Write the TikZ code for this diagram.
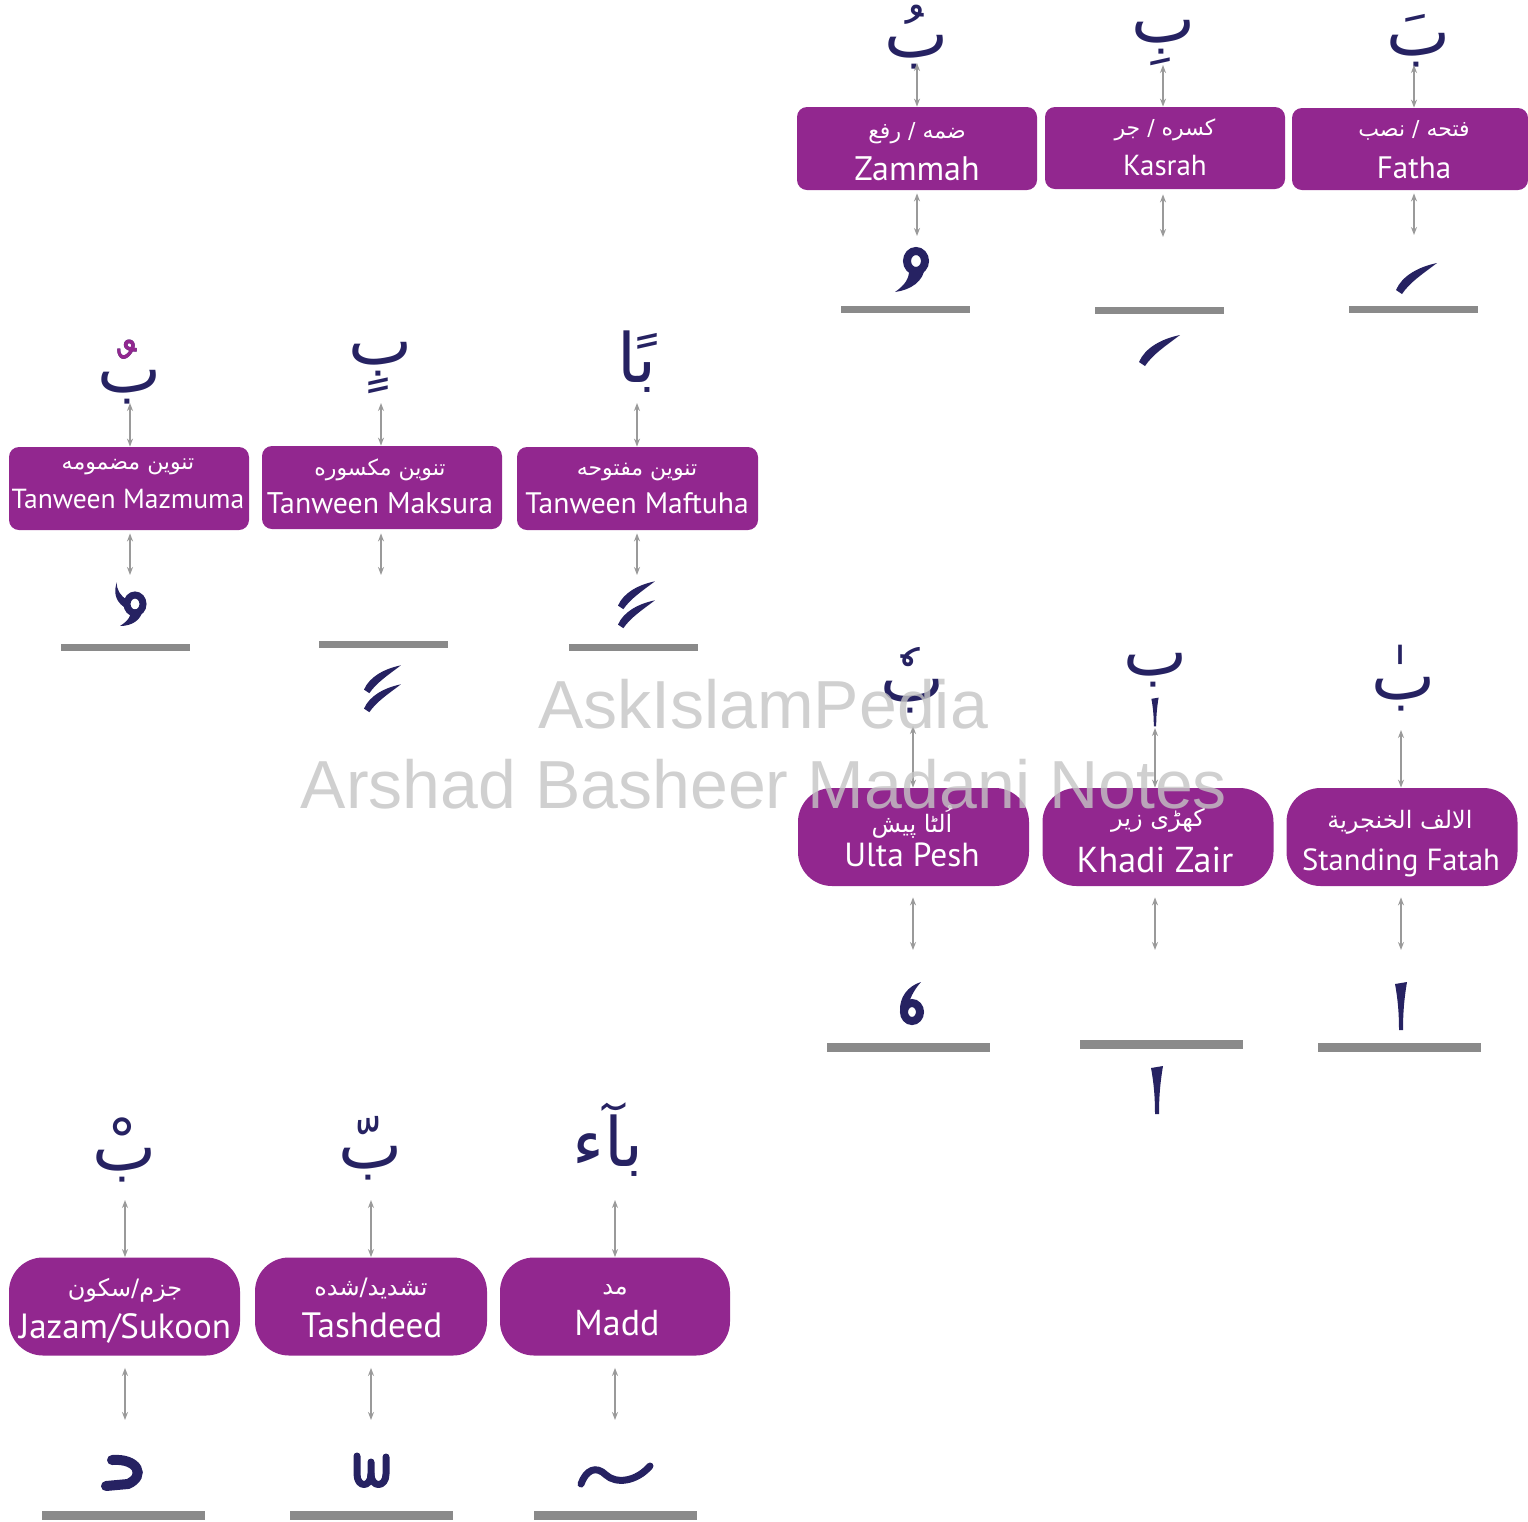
\documentclass[tikz,border=0pt]{standalone}
\usepackage{fontspec}
\setmainfont{PT Sans}
\newfontfamily\arabicfont[Script=Arabic]{DejaVu Sans}
\newfontfamily\wmfont{Liberation Sans}
\TeXXeTstate=1
\usetikzlibrary{arrows.meta}
\definecolor{boxpurple}{HTML}{92278F}
\definecolor{ink}{HTML}{262262}
\definecolor{arrgray}{HTML}{9A9A9A}
\definecolor{bargray}{HTML}{8A8A8A}
\definecolor{wmgray}{HTML}{C4C4C4}
\tikzset{
  sqbox/.style={fill=boxpurple, rounded corners=5pt, minimum width=120pt, minimum height=41.5pt, inner sep=0pt},
  rdbox/.style={fill=boxpurple, rounded corners=17pt, minimum width=115.5pt, minimum height=49pt, inner sep=0pt},
  artxt/.style={text=white, inner sep=0pt, font=\arabicfont\fontsize{11}{13}\selectfont},
  entxt/.style={text=white, inner sep=0pt, anchor=base},
  letter/.style={text=ink, inner sep=0pt, font=\arabicfont\fontsize{34}{36}\selectfont},
  dbl/.style={arrgray, line width=0.75pt, {Stealth[length=4pt,width=3pt]}-{Stealth[length=4pt,width=3pt]}},
  barA/.style={fill=bargray, minimum width=64.5pt, minimum height=3.5pt, inner sep=0pt},
  barB/.style={fill=bargray, minimum width=81.5pt, minimum height=4.5pt, inner sep=0pt},
  fstroke/.pic={\fill[ink] (-20,14) .. controls (-14,0) and (2,-9) .. (21,-13) .. controls (8,-3) and (-6,6) .. (-14,18) -- cycle;},
  vstroke/.pic={\fill[ink] (-6,-22) -- (6,-24) .. controls (3,-6) and (2,8) .. (2,24) -- (-2,24) .. controls (-2,8) and (-3,-6) .. (-6,-22) -- cycle;},
}
\begin{document}
\begin{tikzpicture}[x=0.5pt,y=-0.5pt]
\useasboundingbox (0,0) rectangle (1528,1522);

% ================= Group 1 =================
\node[sqbox] (zb) at (917,148.5) {};
\node[sqbox, minimum height=41pt] (kb) at (1165,148) {};
\node[sqbox, minimum width=118pt, minimum height=41pt] (fb) at (1410,149) {};
\node[artxt] (zar) at (917,133) {\beginR ضمه / رفع\endR};
\node[entxt, font=\fontsize{17}{19}\selectfont] (zen) at (917,180) {Zammah};
\node[artxt] (kar) at (1165,130) {\beginR کسره / جر\endR};
\node[entxt, font=\fontsize{14.5}{17}\selectfont] (ken) at (1165,175) {Kasrah};
\node[artxt] (far) at (1414,130) {\beginR فتحه / نصب\endR};
\node[entxt, font=\fontsize{15.5}{18}\selectfont] (fen) at (1414,178) {Fatha};
\node[letter] (zl) at (917,37) {\beginR بُ\endR};
\node[letter] (kl) at (1163,43) {\beginR بِ\endR};
\node[letter] (fl) at (1418,41) {\beginR بَ\endR};
\coordinate (zt) at (917,63); \coordinate (zd) at (917,236);
\coordinate (kt) at (1163,65); \coordinate (kd) at (1163,237);
\coordinate (ft) at (1414,65); \coordinate (fd) at (1414,235);
\draw[dbl] (zt) -- (zb.north -| zt);
\draw[dbl, shorten <=1.5pt] (zb.south -| zd) -- (zd);
\draw[dbl] (kt) -- (kb.north -| kt);
\draw[dbl, shorten <=2.5pt] (kb.south -| kd) -- (kd);
\draw[dbl] (ft) -- (fb.north -| ft);
\draw[dbl, shorten <=1.5pt] (fb.south -| fd) -- (fd);
\node[barA] (zbar) at (905.5,309.5) {};
\node[barA] (kbar) at (1159.5,310.5) {};
\node[barA] (fbar) at (1413,309.5) {};
% zammah mark
\draw[ink, line width=4pt] (916,261) ellipse (9 and 10);
\fill[ink] (925,266) .. controls (924,282) and (910,290) .. (895,292) .. controls (905,285) and (910,278) .. (909,268) -- cycle;
% fatha mark, kasra mark
\pic at (1416,276) {fstroke};
\pic at (1159,348) {fstroke};

% ================= Group 2 =================
\node[sqbox] (mzb) at (129,488.5) {};
\node[sqbox] (mkb) at (382,487.5) {};
\node[sqbox, minimum width=120.5pt] (mfb) at (637.5,488.5) {};
\node[artxt] (mzar) at (128,467) {\beginR تنوین مضمومه\endR};
\node[entxt, font=\fontsize{13.8}{16}\selectfont] (mzen) at (128,508) {Tanween Mazmuma};
\node[artxt] (mkar) at (380,470) {\beginR تنوین مکسوره\endR};
\node[entxt, font=\fontsize{14.9}{17}\selectfont] (mken) at (380,513) {Tanween Maksura};
\node[artxt] (mfar) at (637,472) {\beginR تنوین مفتوحه\endR};
\node[entxt, font=\fontsize{14.8}{17}\selectfont] (mfen) at (637,513) {Tanween Maftuha};
\node[letter] (mzl) at (130,372) {\beginR بٌ\endR};
\begin{scope}
  \clip (70,300) rectangle (190,364);
  \node[letter, text=boxpurple] (mzlm) at (130,372) {\beginR بٌ\endR};
\end{scope}
\node[letter] (mkl) at (381,368) {\beginR بٍ\endR};
\node[letter] (mfl) at (637,362) {\beginR بًا\endR};
\coordinate (mzt) at (130,403); \coordinate (mzd) at (130,575);
\coordinate (mkt) at (381,403); \coordinate (mkd) at (381,575);
\coordinate (mft) at (637,403); \coordinate (mfd) at (637,575);
\draw[dbl] (mzt) -- (mzb.north -| mzt);
\draw[dbl, shorten <=1.5pt] (mzb.south -| mzd) -- (mzd);
\draw[dbl] (mkt) -- (mkb.north -| mkt);
\draw[dbl, shorten <=2pt] (mkb.south -| mkd) -- (mkd);
\draw[dbl] (mft) -- (mfb.north -| mft);
\draw[dbl, shorten <=1.5pt] (mfb.south -| mfd) -- (mfd);
\node[barA] (mzbar) at (125.5,647.5) {};
\node[barA] (mkbar) at (383.5,644.5) {};
\node[barA] (mfbar) at (633.5,647.5) {};
% dammatan
\draw[ink, line width=3.5pt] (135,604) ellipse (8 and 9);
\fill[ink] (143,608) .. controls (142,620) and (132,626) .. (120,626) .. controls (128,621) and (132,615) .. (131,610) -- cycle;
\fill[ink] (127,600) .. controls (121,596) and (116,590) .. (117,582) .. controls (114,590) and (114,600) .. (124,607) -- cycle;
% fathatan, kasratan
\pic[scale=0.9] at (636,593) {fstroke};
\pic[scale=0.9] at (636,612) {fstroke};
\pic[scale=0.9] at (382,677) {fstroke};
\pic[scale=0.9] at (382,696) {fstroke};

% ================= Group 3 =================
\node[rdbox] (ub) at (913.5,837) {};
\node[rdbox] (kzb) at (1158,837) {};
\node[rdbox] (sb) at (1402,837) {};
\node[artxt, font=\arabicfont\fontsize{12}{14}\selectfont] (uar) at (912,822) {\beginR اُلٹا پیش\endR};
\node[entxt, font=\fontsize{16.7}{19}\selectfont] (uen) at (912,866) {Ulta Pesh};
\node[artxt, font=\arabicfont\fontsize{12}{14}\selectfont] (kzar) at (1158,820) {\beginR کھڑی زیر\endR};
\node[entxt, font=\fontsize{18}{20}\selectfont] (kzen) at (1155,872) {Khadi Zair};
\node[artxt, font=\arabicfont\fontsize{12}{14}\selectfont] (sar) at (1400,822) {\beginR الالف الخنجرية\endR};
\node[entxt, font=\fontsize{15.3}{18}\selectfont] (sen) at (1401,870) {Standing Fatah};
\node[letter] (ul) at (913,680) {\beginR بٗ\endR};
\node[letter] (kzl) at (1155,670) {\beginR ب\endR};
\pic[scale=0.6] at (1155,712) {vstroke};
\node[letter] (sl) at (1403,678) {\beginR بٰ\endR};
\coordinate (ut) at (913,726); \coordinate (ud) at (913,950);
\coordinate (kzt) at (1155,728); \coordinate (kzd) at (1155,950);
\coordinate (st) at (1401,730); \coordinate (sd) at (1401,950);
\draw[dbl] (ut) -- (ub.north -| ut);
\draw[dbl, shorten <=5.5pt] (ub.south -| ud) -- (ud);
\draw[dbl] (kzt) -- (kzb.north -| kzt);
\draw[dbl, shorten <=5.5pt] (kzb.south -| kzd) -- (kzd);
\draw[dbl] (st) -- (sb.north -| st);
\draw[dbl, shorten <=5.5pt] (sb.south -| sd) -- (sd);
\node[barB] (ubar) at (908.5,1047.5) {};
\node[barB] (kzbar) at (1161.5,1044.5) {};
\node[barB] (sbar) at (1399.5,1047.5) {};
% ulta pesh mark
\draw[ink, line width=4pt] (912,1012) ellipse (8 and 9);
\fill[ink] (900,1012) .. controls (899,997) and (908,986) .. (921,982) .. controls (913,991) and (909,1000) .. (908,1008) -- cycle;
% standing fatah, khadi zair
\pic at (1401,1006) {vstroke};
\pic at (1157,1090) {vstroke};

% ================= Group 4 =================
\node[rdbox] (jb) at (124.5,1306.5) {};
\node[rdbox, minimum width=116pt] (tb) at (371,1306.5) {};
\node[rdbox, minimum width=115pt] (mdb) at (615,1306.5) {};
\node[artxt, font=\arabicfont\fontsize{12}{14}\selectfont] (jar) at (125,1290) {\beginR جزم/سکون\endR};
\node[entxt, font=\fontsize{17.5}{20}\selectfont] (jen) at (125,1338) {Jazam/Sukoon};
\node[artxt, font=\arabicfont\fontsize{12}{14}\selectfont] (tar) at (371,1288) {\beginR تشدید/شده\endR};
\node[entxt, font=\fontsize{17.6}{20}\selectfont] (ten) at (372,1337) {Tashdeed};
\node[artxt, font=\arabicfont\fontsize{12}{14}\selectfont] (mdar) at (615,1290) {\beginR مد\endR};
\node[entxt, font=\fontsize{18}{20}\selectfont] (mden) at (617,1335) {Madd};
\node[letter] (jl) at (125,1150) {\beginR بْ\endR};
\node[letter] (tl) at (371,1148) {\beginR بّ\endR};
\node[letter] (mdl) at (608,1140) {\beginR بآء\endR};
\coordinate (jt) at (125,1200); \coordinate (jd) at (125,1420);
\coordinate (tt) at (371,1200); \coordinate (td) at (371,1420);
\coordinate (mdt) at (615,1200); \coordinate (mdd) at (615,1420);
\draw[dbl] (jt) -- (jb.north -| jt);
\draw[dbl, shorten <=6pt] (jb.south -| jd) -- (jd);
\draw[dbl] (tt) -- (tb.north -| tt);
\draw[dbl, shorten <=6pt] (tb.south -| td) -- (td);
\draw[dbl] (mdt) -- (mdb.north -| mdt);
\draw[dbl, shorten <=6pt] (mdb.south -| mdd) -- (mdd);
\node[barB] (jbar) at (123.5,1515) {};
\node[barB] (tbar) at (371.5,1515) {};
\node[barB] (mdbar) at (615,1515) {};
% sukoon (jazm)
\draw[ink, line width=5pt, line cap=round] (112,1460) .. controls (138,1458) and (146,1476) .. (128,1484) -- (106,1486);
% tashdeed
\draw[ink, line width=3.5pt, line cap=round, line join=round] (357,1456) -- (357,1474) .. controls (357,1488) and (371,1488) .. (371,1474) -- (371,1462);
\draw[ink, line width=3.5pt, line cap=round, line join=round] (371,1474) .. controls (371,1488) and (386,1488) .. (386,1474) -- (386,1457);
% madd
\draw[ink, line width=3.5pt, line cap=round] (581,1484) .. controls (586,1470) and (596,1465) .. (606,1475) .. controls (616,1484) and (636,1482) .. (650,1466);

% ================= Watermark =================
\node[text=wmgray, opacity=0.8, inner sep=0pt, anchor=base, font=\wmfont\fontsize{34}{36}\selectfont] (wm1) at (763,728) {AskIslamPedia};
\node[text=wmgray, opacity=0.8, inner sep=0pt, anchor=base, font=\wmfont\fontsize{34}{36}\selectfont] (wm2) at (764,808) {Arshad Basheer Madani Notes};
\end{tikzpicture}
\end{document}
